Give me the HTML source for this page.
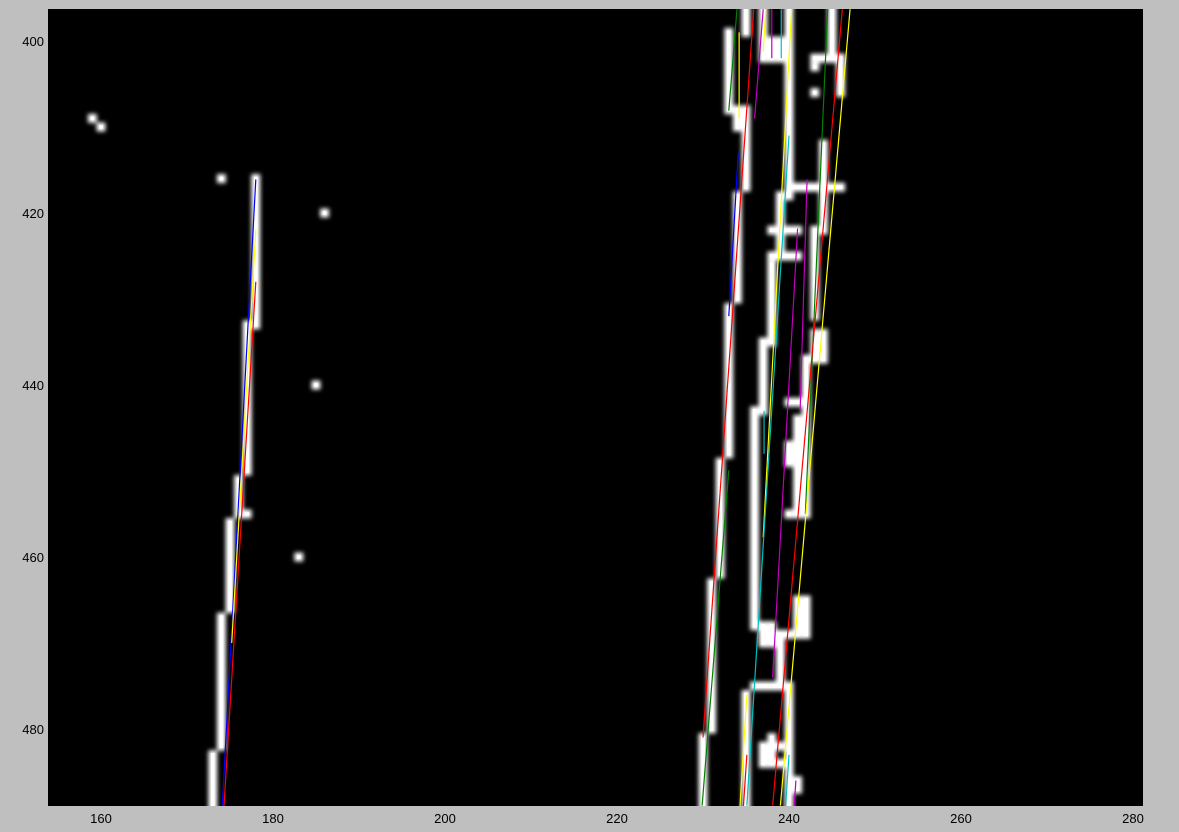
<!DOCTYPE html>
<html><head><meta charset="utf-8"><style>
body{margin:0;background:#bfbfbf;}
svg{display:block;font-family:"Liberation Sans",sans-serif;}
</style></head><body>
<svg id="chart" width="1179" height="832" xmlns="http://www.w3.org/2000/svg">
<defs><filter id="blur" x="-50%" y="-50%" width="200%" height="200%"><feGaussianBlur stdDeviation="2.2"/></filter>
<clipPath id="clip"><rect x="48" y="9" width="1095" height="797"/></clipPath></defs>
<rect x="0" y="0" width="1179" height="832" fill="#bfbfbf"/>
<rect x="48" y="9" width="1095" height="797" fill="#000"/>
<g clip-path="url(#clip)">
<g id="edges" filter="url(#blur)"></g>
<g id="core"></g>
<g id="lines"></g>
</g>
<g id="xt"></g>
<g id="yt"></g>
</svg>
<script>
const xTicks=[160,180,200,220,240,260,280];
const yTicks=[400,420,440,460,480];
// vertical edge runs: [x, yStart, yEnd]
const edgeRuns=[[178,416,433],[177,433,450],[176,451,455],[175,456,466],[174,467,482],[173,483,489],
[235,396,399],[233,399,408],[234,408,410],[235,408,410],[235,410,417],[234,418,430],[233,431,448],[232,449,462],[231,463,480],[230,481,489],
[237,396,402],[238,400,402],[239,400,402],[240,396,418],[239,418,425],[238,426,435],[237,435,443],[236,443,468],[237,468,470],[238,468,470],[239,469,475],[235,476,489],[240,475,489],[237,482,484],[238,481,484],
[245,396,402],[246,402,406],[244,412,422],[243,422,432],[244,434,437],[243,434,437],[242,437,443],[241,444,455],[242,443,455],[240,447,449],[241,465,469],[242,465,469],[241,486,487]];
// horizontal edge runs: [y, xStart, xEnd]
const edgeRowsH=[[417,240,246],[422,238,241],[425,238,241],[442,240,242],[475,236,239],[402,243,246],[469,237,240]];
// isolated dots: [x, y]
const dots=[[159,409],[160,410],[174,416],[186,420],[185,440],[177,455],[183,460],[243,403],[243,406],[242,417],[244,436],[240,448],[240,455],[239,482],[239,484]];
// line segments: [x1,y1,x2,y2,color]
const segs=[[178,416.1,174.1,489,'#0000ff'],[178,422,175.2,470,'#ffff00'],[178,428,174.3,489,'#ff0000'],
[233.95,396.3,233.0,408.1,'#008000'],[233.0,449.9,229.9,488.9,'#008000'],
[235.9,396.3,230.0,481,'#ff0000'],[234.1,413,233.0,432,'#0000ff'],
[237,396.3,236,409,'#bf00bf'],[237.3,396.3,237,401.2,'#ffff00'],[234.2,399,234.2,409,'#ffff00'],
[238,396.3,238,402,'#bf00bf'],[239.1,396.3,239.1,402,'#00bfbf'],
[240.3,396.3,237,457.7,'#ffff00'],[240,411,235.1,488.9,'#00bfbf'],
[242.1,416.1,241.3,442.8,'#bf00bf'],[241,421.8,238.1,474,'#bf00bf'],[240.8,486,240.6,489,'#bf00bf'],
[244.5,396.3,241.9,455,'#008000'],[246.2,396.3,238.1,488.9,'#ff0000'],[247.1,396.3,239,488.9,'#ffff00'],
[235.1,476,234.3,489,'#ffff00'],[235.1,483,234.7,489,'#ff0000'],[237.1,443,237.1,448,'#00bfbf'],[240,483,239.6,489,'#00bfbf']];
const NS='http://www.w3.org/2000/svg';
const sx=v=>101+(v-160)*8.6, sy=v=>41+(v-400)*8.6;
function mk(t,a,p){const e=document.createElementNS(NS,t);for(const k in a)e.setAttribute(k,a[k]);p.appendChild(e);return e;}
const E=document.getElementById('edges'),C=document.getElementById('core'),L=document.getElementById('lines');
function cell(g,x,y,w,h,name){const e=mk('rect',{x:x,y:y,width:w,height:h,fill:'#fff'},g);

}
[[E,4.5],[C,1.8]].forEach(([g,h])=>{
edgeRuns.forEach(r=>cell(g,sx(r[0])-h,sy(r[1])-h,2*h,(r[2]-r[1])*8.6+2*h,'edge-run'));
edgeRowsH.forEach(r=>cell(g,sx(r[1])-h,sy(r[0])-h,(r[2]-r[1])*8.6+2*h,2*h,'edge-row'));
dots.forEach(d=>cell(g,sx(d[0])-h,sy(d[1])-h,2*h,2*h,'edge-dot'));
});
segs.forEach(s=>{const e=mk('line',{x1:sx(s[0]),y1:sy(s[1]),x2:sx(s[2]),y2:sy(s[3]),stroke:s[4],'stroke-width':1.2},L);

});
const XT=document.getElementById('xt'),YT=document.getElementById('yt');
xTicks.forEach(v=>{const t=mk('text',{x:sx(v),y:823,'text-anchor':'middle','font-size':13,fill:'#000'},XT);t.textContent=v;

});
yTicks.forEach(v=>{const t=mk('text',{x:44,y:sy(v)+5,'text-anchor':'end','font-size':13,fill:'#000'},YT);t.textContent=v;

});
</script>
</body></html>
